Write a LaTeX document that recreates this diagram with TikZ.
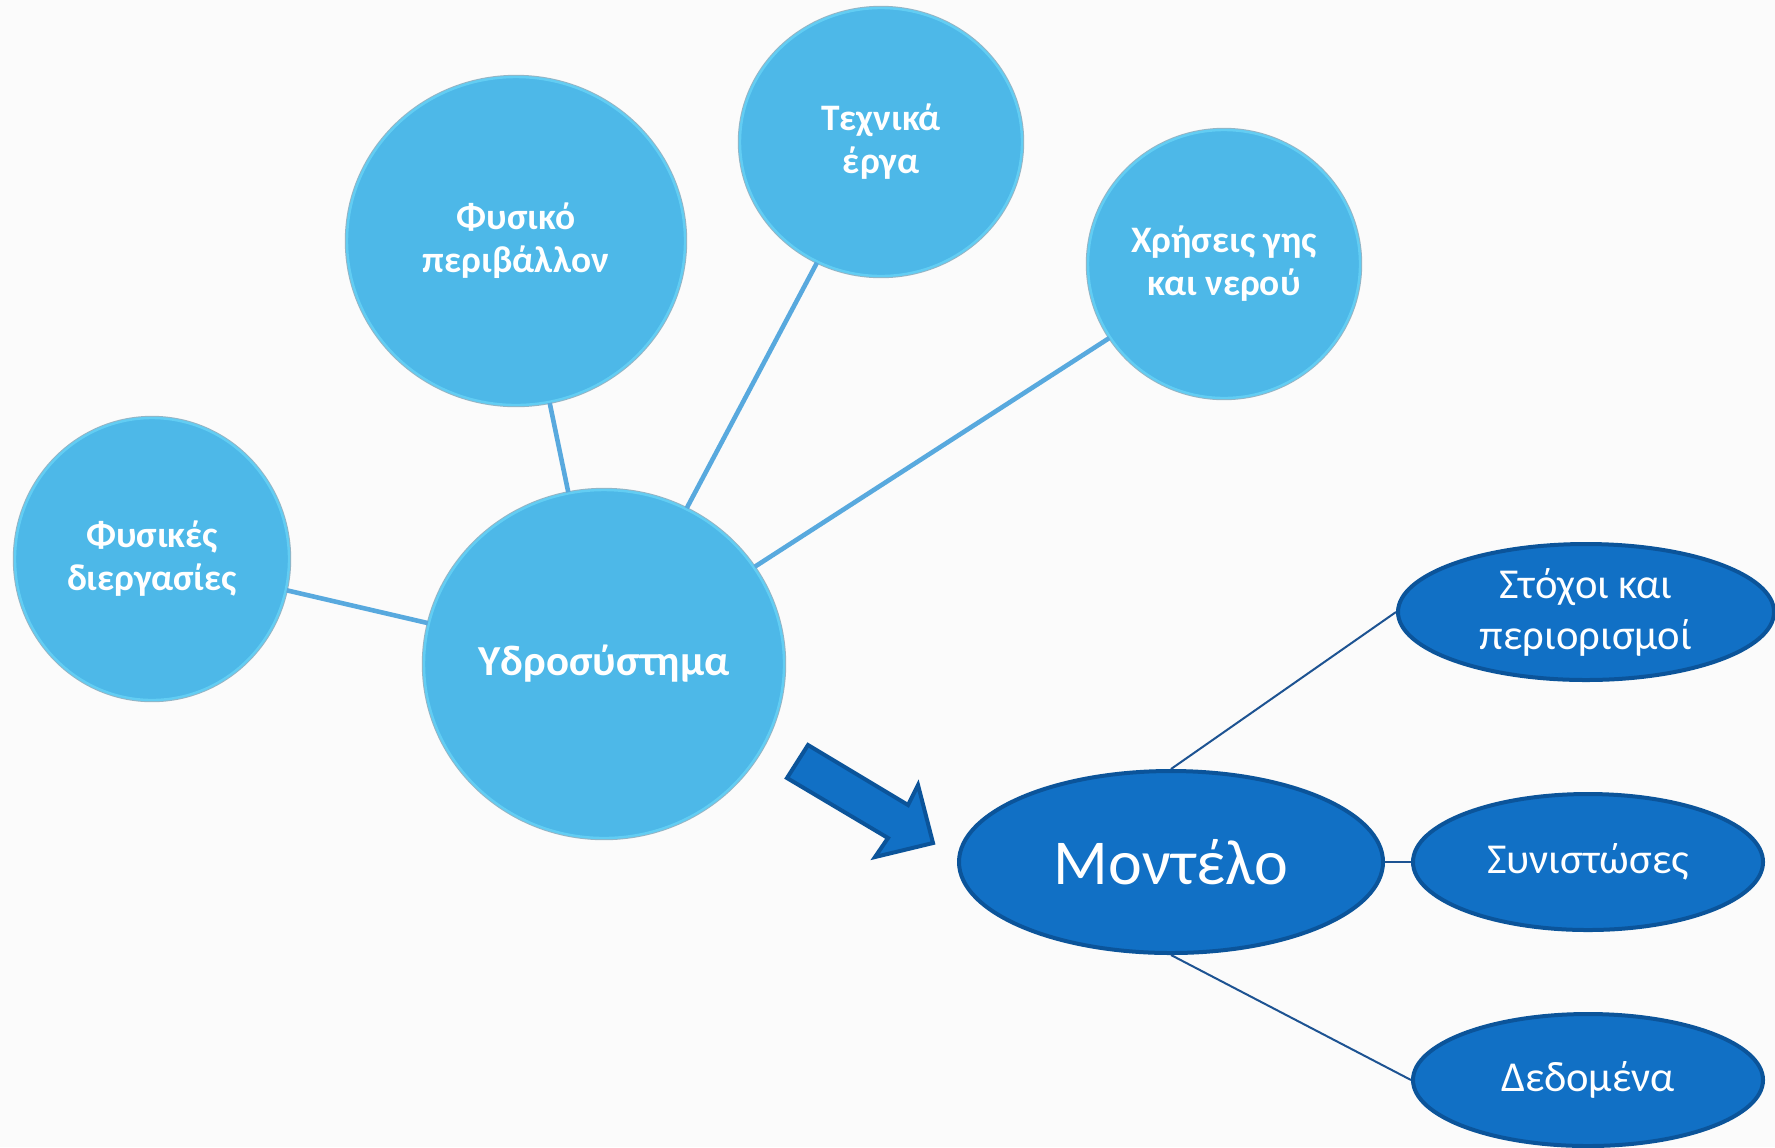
\documentclass[tikz,border=0pt]{standalone}
\usepackage{fontspec}
\setmainfont{Carlito}
\usetikzlibrary{shapes.geometric}

\definecolor{bubble}{HTML}{4DB8E8}
\definecolor{bubblerim}{HTML}{62CDF3}
\definecolor{bubbleedge}{HTML}{93B5C6}
\definecolor{spoke}{HTML}{58A9DE}
\definecolor{modelfill}{HTML}{1170C5}
\definecolor{modeledge}{HTML}{0B549A}
\definecolor{modelline}{HTML}{1D5392}
\definecolor{paper}{HTML}{FBFBFB}

\begin{document}
\begin{tikzpicture}[x=0.5pt,y=-0.5pt,
  bubble/.style args={#1/#2}{ellipse, inner sep=0pt,
    minimum width=#1pt, minimum height=#2pt,
    fill=bubble, draw=bubblerim, line width=1.2pt,
    preaction={draw=bubbleedge, line width=2.2pt},
    text=white, align=center,
    font=\bfseries\fontsize{18.7}{21.5}\selectfont},
  oval/.style args={#1/#2}{ellipse, inner sep=0pt,
    minimum width=#1pt, minimum height=#2pt,
    fill=modelfill, draw=modeledge, line width=2pt,
    text=white, align=center,
    font=\fontsize{21.3}{25.5}\selectfont},
  spokeline/.style={draw=spoke, line width=2.3pt},
  branch/.style={draw=modelline, line width=1pt},
  blockarrow/.style={fill=modelfill, draw=modeledge, line width=2pt, line join=miter}
]
  % page
  \fill[paper] (0,0) rectangle (1775,1147);
  \useasboundingbox (0,0) rectangle (1775,1147);

  % water system bubbles
  \node[bubble=180/174, font=\bfseries\fontsize{21.4}{25}\selectfont] (hydro) at (604,664) {Υδροσύστημα};
  \node[bubble=137/141] (procs) at (152,559) {Φυσικές\\διεργασίες};
  \node[bubble=169/164] (env) at (516,241) {Φυσικό\\περιβάλλον};
  \node[bubble=141/134] (works) at (881,142) {Τεχνικά\\έργα};
  \node[bubble=136/134] (uses) at (1224,264) {Χρήσεις γης\\και νερού};

  \draw[spokeline] (procs) -- (hydro);
  \draw[spokeline] (env) -- (hydro);
  \draw[spokeline] (works) -- (hydro);
  \draw[spokeline] (uses) -- (hydro);

  % transition arrow
  \draw[blockarrow] (808,745) -- (908,805) -- (918,785) -- (933,843)
    -- (875,857) -- (888,838) -- (787,778) -- cycle;

  % model and its parts
  \node[oval=212/91, font=\fontsize{32}{38}\selectfont] (model) at (1171,862) {Μοντέλο};
  \node[oval=188/68] (goals) at (1586,612) {Στόχοι και\\περιορισμοί};
  \node[oval=175/68] (parts) at (1588,862) {Συνιστώσες};
  \node[oval=175/66] (data) at (1588,1080) {Δεδομένα};

  \draw[branch] (model.north) -- (goals.west);
  \draw[branch] (model.east) -- (parts.west);
  \draw[branch] (model.south) -- (data.west);
\end{tikzpicture}
\end{document}
